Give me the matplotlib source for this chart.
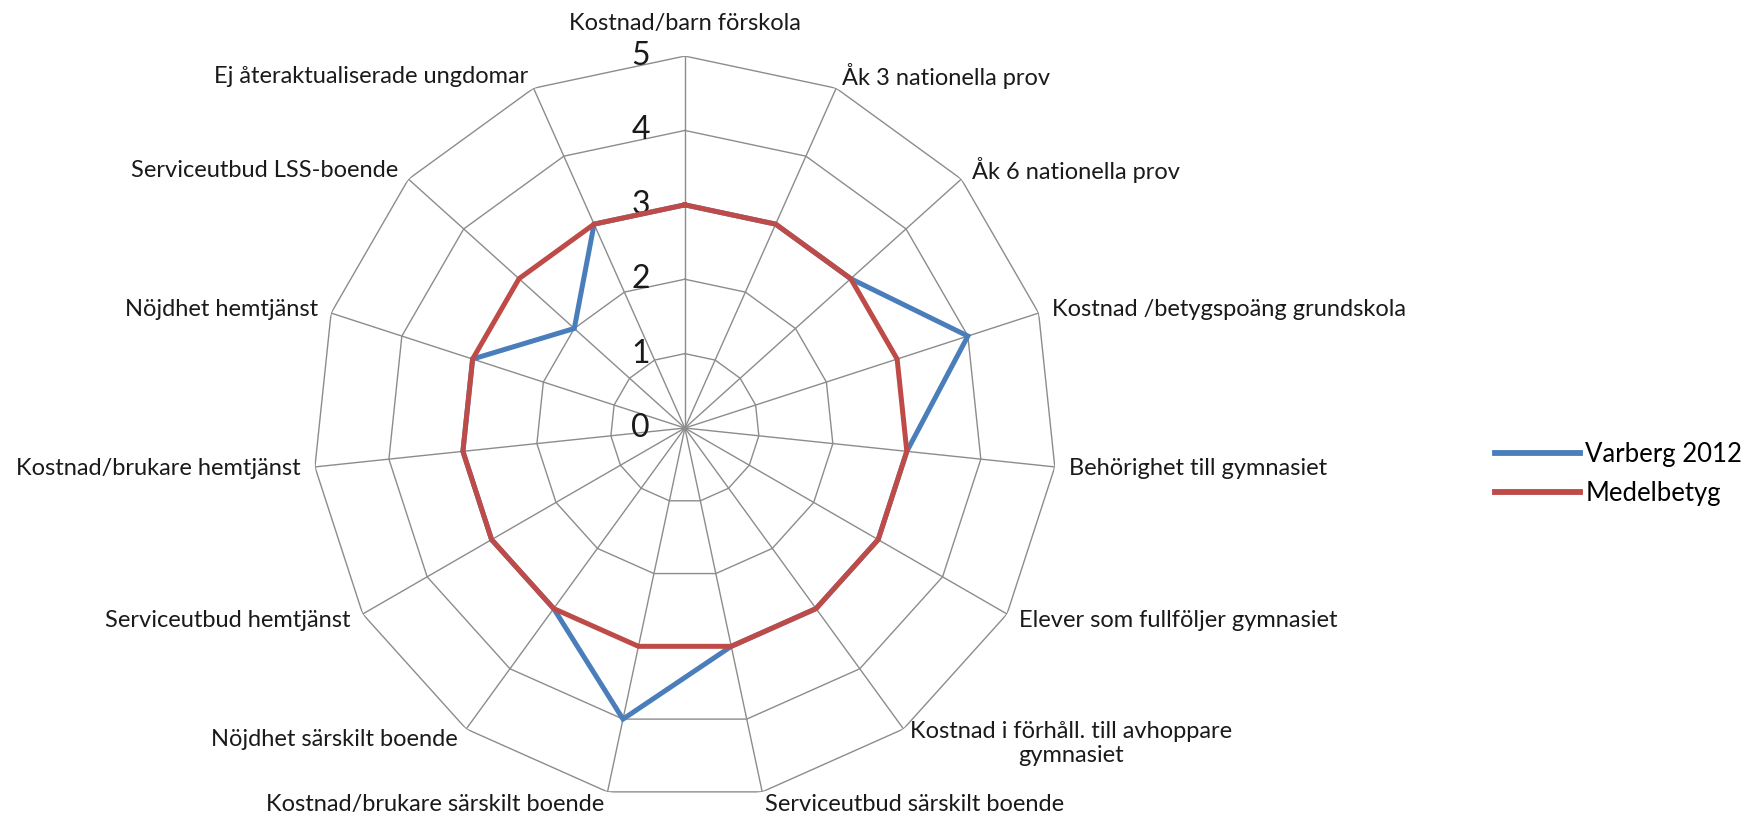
import numpy as np
import matplotlib
matplotlib.use("Agg")
import matplotlib.pyplot as plt

plt.rcParams["font.family"] = ["Lato", "DejaVu Sans"]

categories = [
    "Kostnad/barn förskola",
    "Åk 3 nationella prov",
    "Åk 6 nationella prov",
    "Kostnad /betygspoäng grundskola",
    "Behörighet till gymnasiet",
    "Elever som fullföljer gymnasiet",
    "Kostnad i förhåll. till avhoppare\ngymnasiet",
    "Serviceutbud särskilt boende",
    "Kostnad/brukare särskilt boende",
    "Nöjdhet särskilt boende",
    "Serviceutbud hemtjänst",
    "Kostnad/brukare hemtjänst",
    "Nöjdhet hemtjänst",
    "Serviceutbud LSS-boende",
    "Ej återaktualiserade ungdomar",
]
varberg_2012 = [3, 3, 3, 4, 3, 3, 3, 3, 4, 3, 3, 3, 3, 2, 3]
medelbetyg = [3, 3, 3, 3, 3, 3, 3, 3, 3, 3, 3, 3, 3, 3, 3]
levels = [0, 1, 2, 3, 4, 5]

grid_color = "#8c8c8c"
blue = "#4a7ebb"
red = "#be4b48"

n = len(categories)
angles = np.linspace(0, 2 * np.pi, n, endpoint=False)
closed = np.append(angles, angles[0])

fig = plt.figure(figsize=(17.48, 8.17), dpi=100)
ax = fig.add_axes([0.179, 0.0208, 0.4256, 0.9106], projection="polar")
ax.set_theta_offset(np.pi / 2)
ax.set_theta_direction(-1)
ax.set_ylim(0, 5)
ax.grid(False)
ax.set_xticks([])
ax.set_yticks([])
ax.spines["polar"].set_visible(False)
ax.patch.set_visible(False)

# polygon gridlines and spokes
for lv in levels[1:]:
    ax.plot(closed, [lv] * (n + 1), color=grid_color, lw=1.0, zorder=1)
for a in angles:
    ax.plot([a, a], [0, levels[-1]], color=grid_color, lw=1.0, zorder=1)

l1, = ax.plot(closed, varberg_2012 + varberg_2012[:1], color=blue, lw=3.6,
              solid_joinstyle="miter", zorder=3, label="Varberg 2012")
l2, = ax.plot(closed, medelbetyg + medelbetyg[:1], color=red, lw=3.6,
              solid_joinstyle="miter", zorder=4, label="Medelbetyg")

# value labels along the top spoke
for lv in levels:
    ax.annotate(str(lv), xy=(0, lv), xytext=(-35, 0), textcoords="offset pixels",
                ha="right", va="center", fontsize=23, color="#1a1a1a")

# category labels
for a, lab in zip(angles, categories):
    s, c = np.sin(a), np.cos(a)
    if abs(s) < 0.1:
        ha = "center"
        va = "bottom" if c > 0 else "top"
        off = (0, 22 if c > 0 else -22)
    else:
        ha = "left" if s > 0 else "right"
        va = "center"
        off = (14 * s, 13 * c)
    if "\n" in lab:
        va = "top"
        off = (6, 8)
    ax.annotate(lab, xy=(a, levels[-1]), xytext=off, textcoords="offset pixels",
                ha=ha, va=va, fontsize=17, color="#1a1a1a",
                multialignment="center", annotation_clip=False)

leg = fig.legend(handles=[l1, l2], loc="center left", bbox_to_anchor=(0.8555, 0.42),
                 frameon=False, fontsize=18.5, handlelength=3.3, handletextpad=0.2,
                 labelspacing=0.55, borderpad=0, borderaxespad=0)
for h in leg.get_lines():
    h.set_linewidth(4.2)

fig.savefig("out.png", dpi=100)
